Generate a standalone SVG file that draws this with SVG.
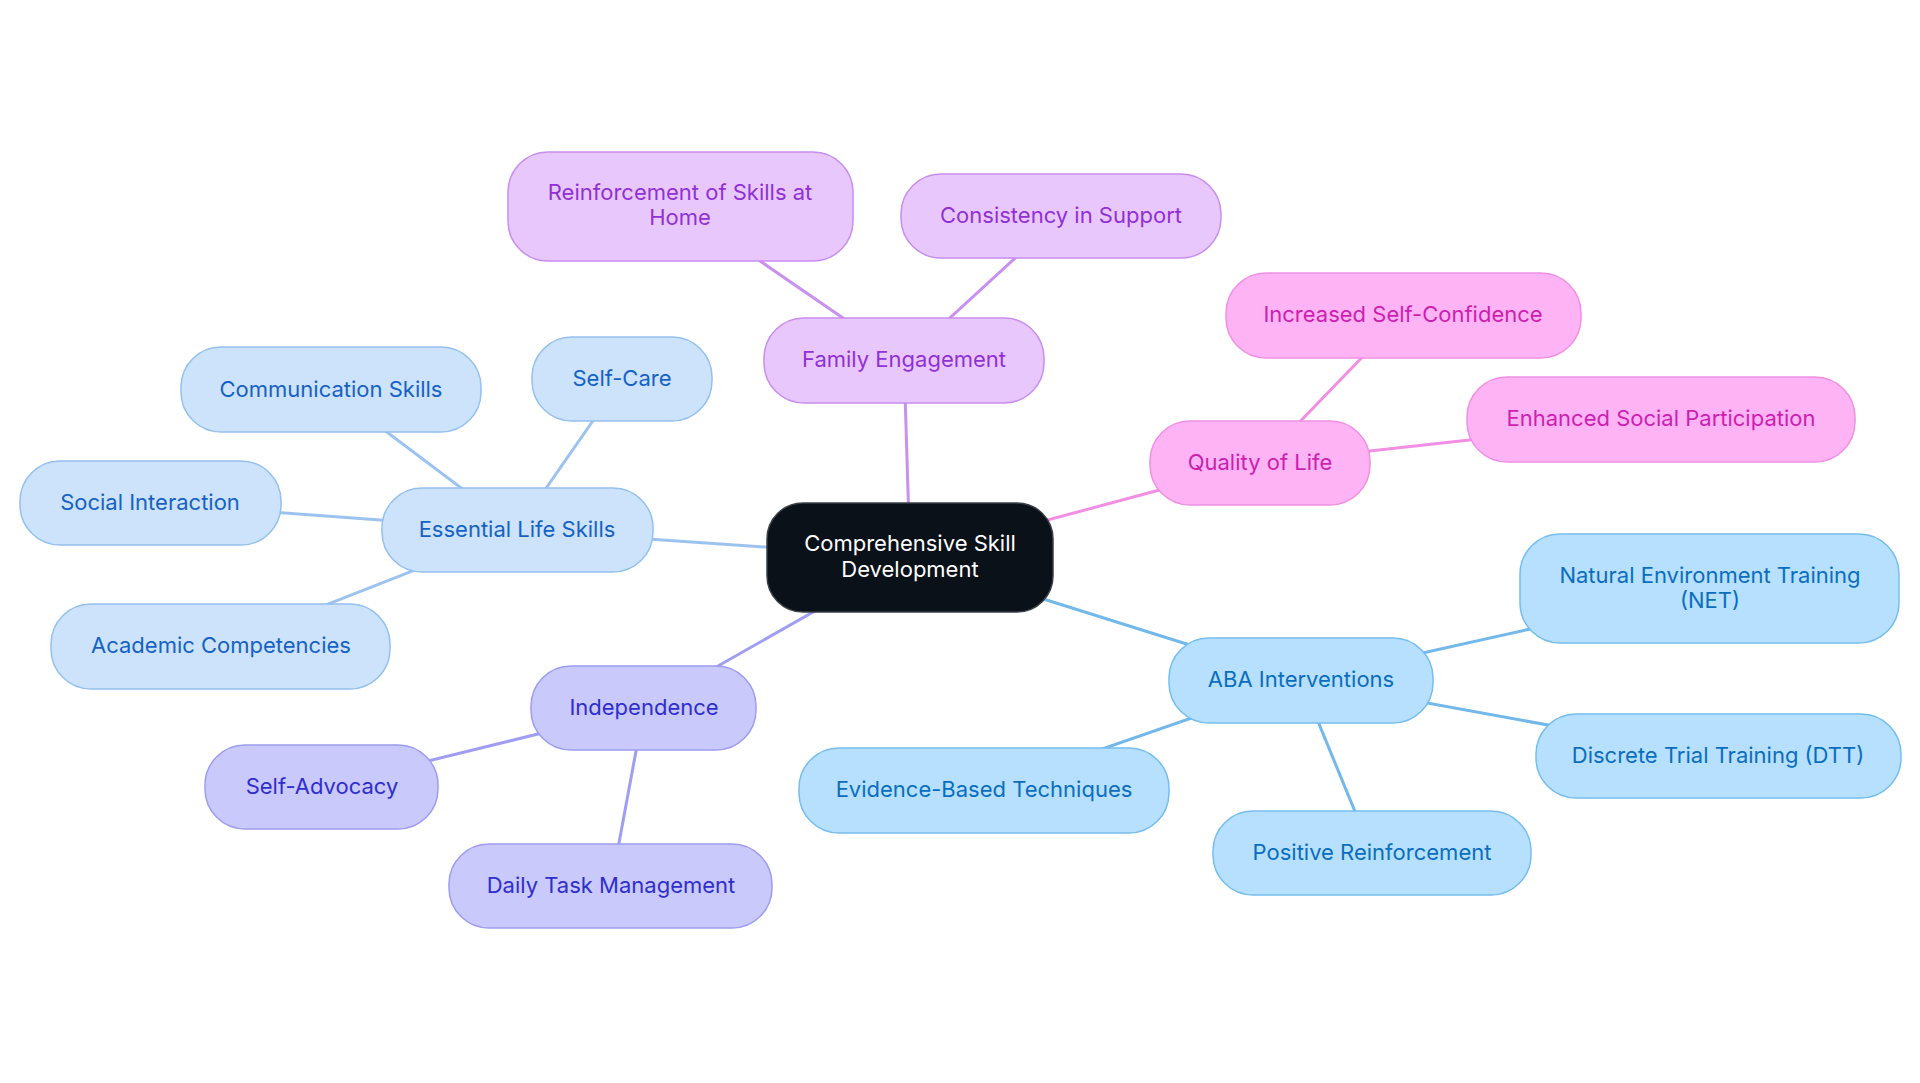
<svg xmlns="http://www.w3.org/2000/svg" width="1920" height="1083" viewBox="0 0 1920 1083">
<style>
text{font-family:Inter,"Noto Sans","Liberation Sans",sans-serif;font-size:22px;text-anchor:middle;dominant-baseline:central;transform:translateY(-1.5px)}
.e{fill:none;stroke-width:3}
.root rect{fill:#0b1119;stroke:#3a3f47;stroke-width:1.5}
.root text{fill:#ffffff}
.pu rect{fill:#e8c8fc;stroke:#c88df0;stroke-width:1.5}
.pu text{fill:#9130d5}
.pk rect{fill:#fdb3f4;stroke:#f090e2;stroke-width:1.5}
.pk text{fill:#cc1fb0}
.lb rect{fill:#cce3fb;stroke:#94c0ef;stroke-width:1.5}
.lb text{fill:#1662c4}
.lv rect{fill:#c9c9fc;stroke:#9d9cf0;stroke-width:1.5}
.lv text{fill:#2f2ecd}
.sb rect{fill:#b6e0fd;stroke:#75bdf0;stroke-width:1.5}
.sb text{fill:#0a6ec0}
</style>
<rect width="1920" height="1083" fill="#ffffff"/>
<g id="connectors">
<line class="e" stroke="#c890ef" x1="910" y1="557" x2="904" y2="360"/>
<line class="e" stroke="#c890ef" x1="904" y1="360" x2="680" y2="206"/>
<line class="e" stroke="#c890ef" x1="904" y1="360" x2="1061" y2="216"/>
<line class="e" stroke="#f28ee3" x1="910" y1="557" x2="1260" y2="463"/>
<line class="e" stroke="#f28ee3" x1="1260" y1="463" x2="1403" y2="315"/>
<line class="e" stroke="#f28ee3" x1="1260" y1="463" x2="1661" y2="419"/>
<line class="e" stroke="#9cc3ef" x1="910" y1="557" x2="517" y2="530"/>
<line class="e" stroke="#9cc3ef" x1="517" y1="530" x2="331" y2="390"/>
<line class="e" stroke="#9cc3ef" x1="517" y1="530" x2="622" y2="379"/>
<line class="e" stroke="#9cc3ef" x1="517" y1="530" x2="150" y2="503"/>
<line class="e" stroke="#9cc3ef" x1="517" y1="530" x2="221" y2="646"/>
<line class="e" stroke="#a09ef2" x1="910" y1="557" x2="644" y2="708"/>
<line class="e" stroke="#a09ef2" x1="644" y1="708" x2="322" y2="787"/>
<line class="e" stroke="#a09ef2" x1="644" y1="708" x2="611" y2="886"/>
<line class="e" stroke="#72b8ea" x1="910" y1="557" x2="1301" y2="680"/>
<line class="e" stroke="#72b8ea" x1="1301" y1="680" x2="1710" y2="589"/>
<line class="e" stroke="#72b8ea" x1="1301" y1="680" x2="1718" y2="756"/>
<line class="e" stroke="#72b8ea" x1="1301" y1="680" x2="984" y2="790"/>
<line class="e" stroke="#72b8ea" x1="1301" y1="680" x2="1372" y2="853"/>
</g>
<g id="n-root" class="root"><rect x="767" y="503" width="286" height="109" rx="36"/><text x="910" y="544">Comprehensive Skill</text><text x="910" y="570">Development</text></g>
<g id="n-family" class="pu"><rect x="764" y="318" width="280" height="85" rx="40"/><text x="904" y="360">Family Engagement</text></g>
<g id="n-reinforce" class="pu"><rect x="508" y="152" width="345" height="109" rx="40"/><text x="680" y="193">Reinforcement of Skills at</text><text x="680" y="218">Home</text></g>
<g id="n-consistency" class="pu"><rect x="901" y="174" width="320" height="84" rx="40"/><text x="1061" y="216">Consistency in Support</text></g>
<g id="n-quality" class="pk"><rect x="1150" y="421" width="220" height="84" rx="40"/><text x="1260" y="463">Quality of Life</text></g>
<g id="n-confidence" class="pk"><rect x="1226" y="273" width="355" height="85" rx="40"/><text x="1403" y="315">Increased Self-Confidence</text></g>
<g id="n-social-part" class="pk"><rect x="1467" y="377" width="388" height="85" rx="40"/><text x="1661" y="419">Enhanced Social Participation</text></g>
<g id="n-essential" class="lb"><rect x="382" y="488" width="271" height="84" rx="40"/><text x="517" y="530">Essential Life Skills</text></g>
<g id="n-communication" class="lb"><rect x="181" y="347" width="300" height="85" rx="40"/><text x="331" y="390">Communication Skills</text></g>
<g id="n-selfcare" class="lb"><rect x="532" y="337" width="180" height="84" rx="40"/><text x="622" y="379">Self-Care</text></g>
<g id="n-social" class="lb"><rect x="20" y="461" width="261" height="84" rx="40"/><text x="150" y="503">Social Interaction</text></g>
<g id="n-academic" class="lb"><rect x="51" y="604" width="339" height="85" rx="40"/><text x="221" y="646">Academic Competencies</text></g>
<g id="n-independence" class="lv"><rect x="531" y="666" width="225" height="84" rx="40"/><text x="644" y="708">Independence</text></g>
<g id="n-advocacy" class="lv"><rect x="205" y="745" width="233" height="84" rx="40"/><text x="322" y="787">Self-Advocacy</text></g>
<g id="n-daily" class="lv"><rect x="449" y="844" width="323" height="84" rx="40"/><text x="611" y="886">Daily Task Management</text></g>
<g id="n-aba" class="sb"><rect x="1169" y="638" width="264" height="85" rx="40"/><text x="1301" y="680">ABA Interventions</text></g>
<g id="n-net" class="sb"><rect x="1520" y="534" width="379" height="109" rx="40"/><text x="1710" y="576">Natural Environment Training</text><text x="1710" y="601">(NET)</text></g>
<g id="n-dtt" class="sb"><rect x="1536" y="714" width="365" height="84" rx="40"/><text x="1718" y="756">Discrete Trial Training (DTT)</text></g>
<g id="n-evidence" class="sb"><rect x="799" y="748" width="370" height="85" rx="40"/><text x="984" y="790">Evidence-Based Techniques</text></g>
<g id="n-positive" class="sb"><rect x="1213" y="811" width="318" height="84" rx="40"/><text x="1372" y="853">Positive Reinforcement</text></g>
</svg>
